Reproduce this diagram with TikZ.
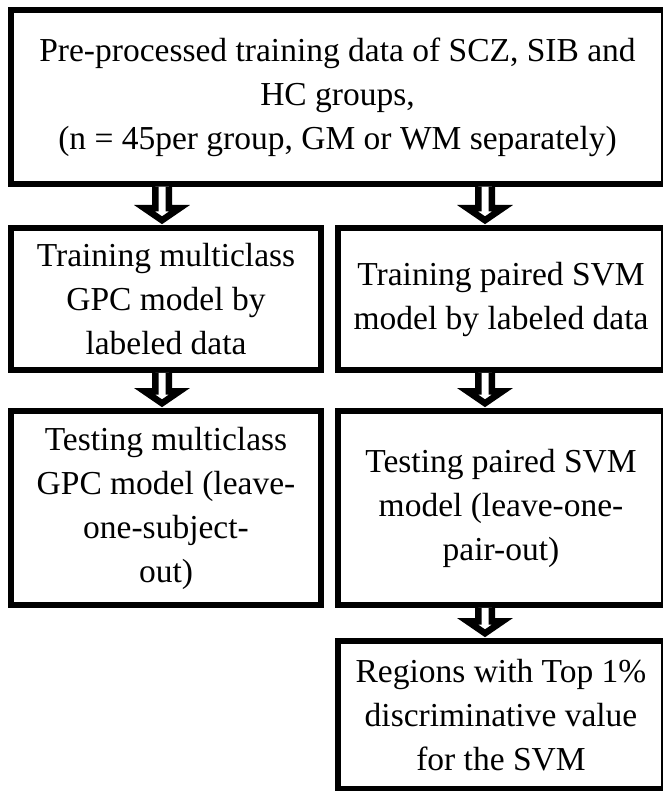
\documentclass[tikz,border=0pt]{standalone}
\usepackage{fontspec}
\setmainfont{Liberation Serif}
\usetikzlibrary{calc}
\tikzset{
  flowbox/.style={rectangle, draw=black, line width=5.5pt, fill=white, align=center,
    inner sep=2pt, font=\fontsize{33.5}{44}\selectfont},
  harrow/.style={draw=black, line width=6.5pt, fill=white, line join=miter}
}
\newcommand\hollowdown[2]{%
  \draw[harrow] let \p1=(#1), \p2=(#2) in
    (\x1-6.75pt,\y1) -- (\x1-6.75pt,\y2+17pt) -- (\x1-17.5pt,\y2+17pt) -- (\x1,\y2+5pt)
    -- (\x1+17.5pt,\y2+17pt) -- (\x1+6.75pt,\y2+17pt) -- (\x1+6.75pt,\y1);
}
\begin{document}
\begin{tikzpicture}[x=1pt,y=-1pt]
\useasboundingbox (0,0) rectangle (662,791);
\node[flowbox, minimum width=653, minimum height=174] (top) at (337.5,97)
  {Pre-processed training data of SCZ, SIB and\\HC groups,\\(n = 45per group, GM or WM separately)};
\node[flowbox, minimum width=310, minimum height=142] (l2) at (166,299)
  {Training multiclass\\GPC model by\\labeled data};
\node[flowbox, minimum width=326, minimum height=142] (r2) at (501,299)
  {Training paired SVM\\model by labeled data};
\node[flowbox, minimum width=310, minimum height=194] (l3) at (166,508)
  {Testing multiclass\\GPC model (leave-\\one-subject-\\out)};
\node[flowbox, minimum width=326, minimum height=194] (r3) at (501,508)
  {Testing paired SVM\\model (leave-one-\\pair-out)};
\node[flowbox, minimum width=326, minimum height=148] (r4) at (501,715)
  {Regions with Top 1\%\\discriminative value\\for the SVM};
\coordinate (aL) at (162,0);
\coordinate (aR) at (485,0);
\hollowdown{top.south -| aL}{l2.north -| aL}
\hollowdown{top.south -| aR}{r2.north -| aR}
\hollowdown{l2.south -| aL}{l3.north -| aL}
\hollowdown{r2.south -| aR}{r3.north -| aR}
\hollowdown{r3.south -| aR}{r4.north -| aR}
\end{tikzpicture}
\end{document}
